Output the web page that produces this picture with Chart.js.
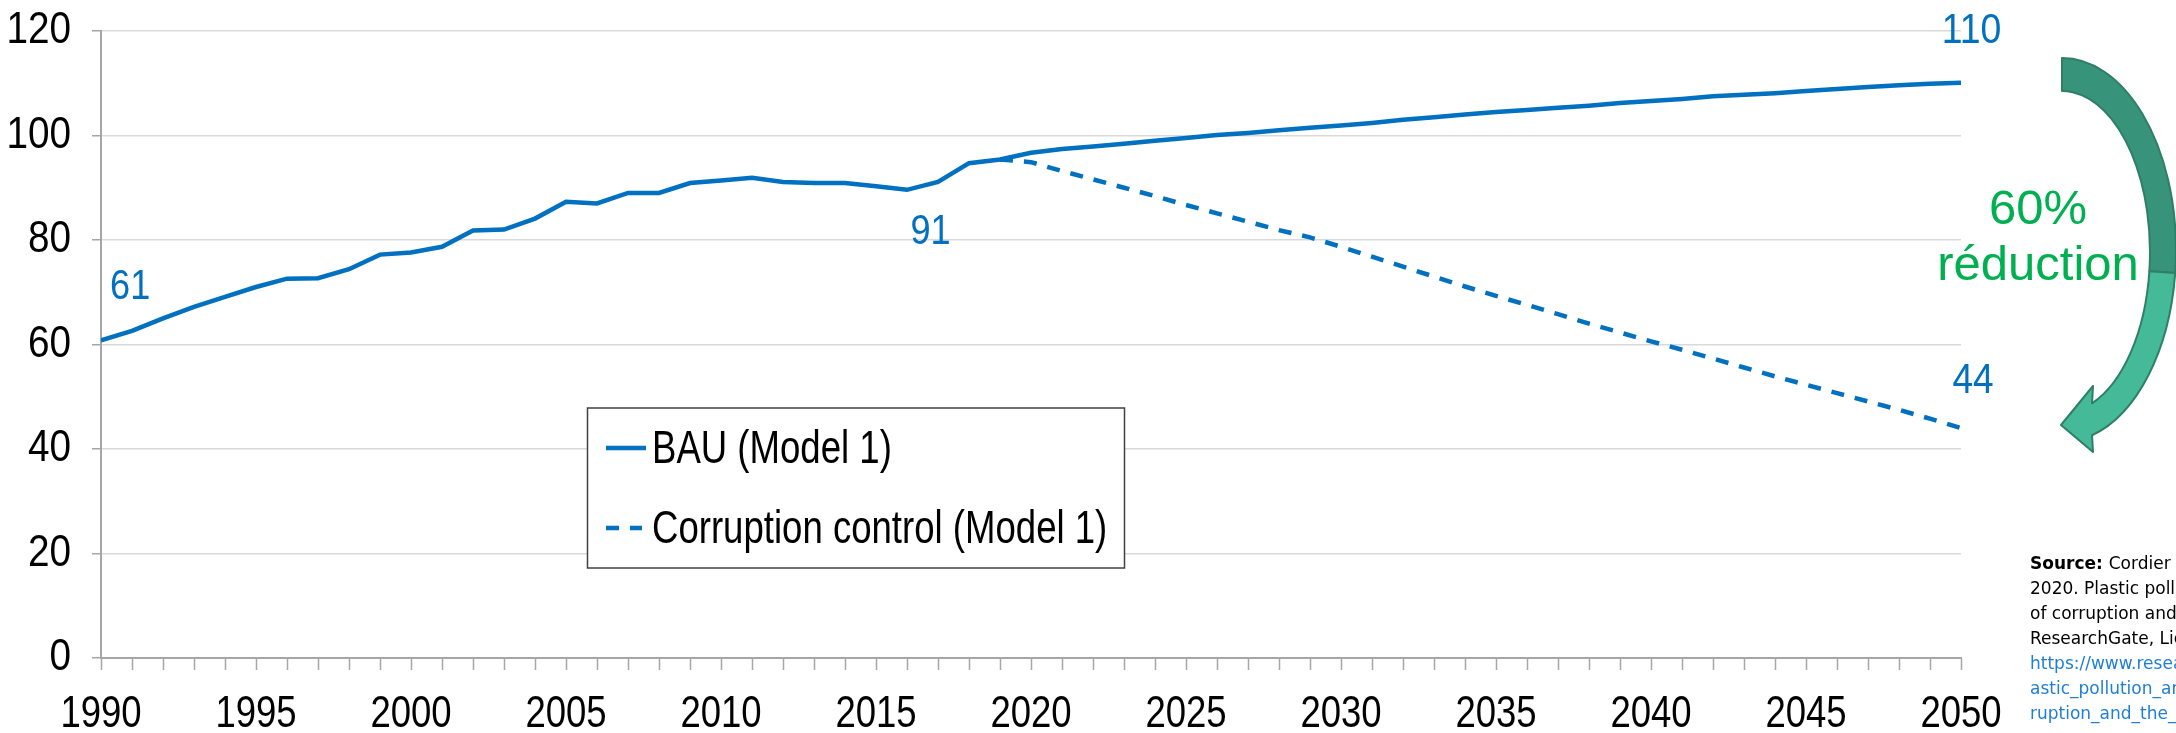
<!DOCTYPE html>
<html>
<head>
<meta charset="utf-8">
<script src="https://cdn.jsdelivr.net/npm/chart.js@4.4.1/dist/chart.umd.min.js"></script>
<style>
  html, body { margin: 0; padding: 0; background: #fff; }
  #wrap { width: 2176px; height: 733px; }
</style>
</head>
<body>
<div id="wrap"><canvas id="plasticChart" width="2176" height="733"></canvas></div>
<script>
// years on the x axis
const years = [1990, 1991, 1992, 1993, 1994, 1995, 1996, 1997, 1998, 1999,
    2000, 2001, 2002, 2003, 2004, 2005, 2006, 2007, 2008, 2009,
    2010, 2011, 2012, 2013, 2014, 2015, 2016, 2017, 2018, 2019,
    2020, 2021, 2022, 2023, 2024, 2025, 2026, 2027, 2028, 2029,
    2030, 2031, 2032, 2033, 2034, 2035, 2036, 2037, 2038, 2039,
    2040, 2041, 2042, 2043, 2044, 2045, 2046, 2047, 2048, 2049, 2050];

// BAU (Model 1)
const bauValues = [60.8, 62.6, 65.0, 67.2, 69.1, 71.0, 72.6, 72.7, 74.4, 77.2,
    77.6, 78.7, 81.8, 82.0, 84.1, 87.3, 87.0, 89.0, 89.0, 90.9,
    91.4, 91.9, 91.1, 90.9, 90.9, 90.3, 89.6, 91.1, 94.7, 95.4,
    96.7, 97.4, 97.9, 98.4, 99.0, 99.5, 100.1, 100.5, 101.0, 101.5,
    101.9, 102.4, 103.0, 103.5, 104.0, 104.5, 104.9, 105.3, 105.7, 106.2,
    106.6, 107.0, 107.5, 107.8, 108.1, 108.5, 108.9, 109.3, 109.6, 109.9, 110.1];

// Corruption control (Model 1) starts in 2019
const controlYears = [2019, 2020, 2021, 2022, 2023, 2024, 2025, 2026, 2027, 2028,
    2029, 2030, 2031, 2032, 2033, 2034, 2035, 2036, 2037, 2038, 2039,
    2040, 2041, 2042, 2043, 2044, 2045, 2046, 2047, 2048, 2049, 2050];
const controlValues = [95.4, 94.9, 93.2, 91.6, 90.0, 88.4, 86.7, 85.1, 83.5, 81.9,
    80.5, 78.7, 76.8, 74.9, 73.0, 71.1, 69.3, 67.6, 65.8, 64.0, 62.3,
    60.6, 59.0, 57.3, 55.6, 53.9, 52.3, 50.7, 49.1, 47.5, 45.8, 44.0];

const seriesNames = ['BAU (Model 1)', 'Corruption control (Model 1)'];
const xTickLabels = [1990, 1995, 2000, 2005, 2010, 2015, 2020, 2025, 2030, 2035, 2040, 2045, 2050];
const yTickLabels = [0, 20, 40, 60, 80, 100, 120];

const valueNotes = ['61', '91', '110', '44'];
const reductionNote = ['60%', 'réduction'];
const sourceLines = [
    'Cordier M., Uehara T., Baztan J., Jorgensen B., Yan H.,',
    '2020. Plastic pollution and economic growth: the influence',
    'of corruption and the lack of education consumption.',
    'ResearchGate, Licence CC BY 4.0,',
    'https://www.researchgate.net/publication/Pl',
    'astic_pollution_and_economic_growth_the_influence_of_cor',
    'ruption_and_the_lack_of_education_consumption'
];

const blue = '#0070c0';
const sans = "'Liberation Sans', Arial, sans-serif";

// linear scale whose tick labels are squeezed sideways (the original uses a narrow face)
class NarrowLinearScale extends Chart.LinearScale {
    drawLabels(area) {
        const ctx = this.ctx;
        const squeeze = this.options.ticks.squeeze || 1;
        const rotate = ctx.rotate;
        ctx.rotate = function (r) { rotate.call(this, r); this.scale(squeeze, 1); };
        super.drawLabels(area);
        delete ctx.rotate;
    }
}
NarrowLinearScale.id = 'narrowLinear';
NarrowLinearScale.defaults = Chart.LinearScale.defaults;
Chart.register(NarrowLinearScale);

function squeezedText(ctx, text, x, y, squeeze) {
    ctx.save();
    ctx.translate(x, y);
    ctx.scale(squeeze, 1);
    ctx.fillText(text, 0, 0);
    ctx.restore();
}

function drawArrow(ctx) {
    const cx = 2062;
    const outer = { cy: 250, a: 114, b: 192 };
    const inner = { cy: 252, a: 88, b: 161 };
    const split = 0.12;
    const outEnd = Math.acos(30 / outer.a);
    const inEnd = Math.acos(30 / inner.a);

    ctx.save();
    ctx.lineJoin = 'round';
    ctx.strokeStyle = '#2f7f66';
    ctx.lineWidth = 2;

    // back face (darker)
    ctx.beginPath();
    ctx.ellipse(cx, outer.cy, outer.a, outer.b, 0, -Math.PI / 2, split, false);
    ctx.ellipse(cx, inner.cy, inner.a, inner.b, 0, split, -Math.PI / 2, true);
    ctx.closePath();
    ctx.fillStyle = '#37937a';
    ctx.fill();
    ctx.stroke();

    // front face with the head
    ctx.beginPath();
    ctx.ellipse(cx, outer.cy, outer.a, outer.b, 0, split, outEnd, false);
    ctx.lineTo(2093, 452);
    ctx.lineTo(2061, 425);
    ctx.lineTo(2093, 386);
    ctx.ellipse(cx, inner.cy, inner.a, inner.b, 0, inEnd, split, true);
    ctx.closePath();
    ctx.fillStyle = '#45ba98';
    ctx.fill();
    ctx.stroke();
    ctx.restore();
}

const extrasPlugin = {
    id: 'extras',
    afterDraw(chart) {
        const ctx = chart.ctx;
        const xs = chart.scales.x;
        const ys = chart.scales.y;
        ctx.save();

        // value notes next to the lines
        ctx.fillStyle = blue;
        ctx.font = '43px ' + sans;
        ctx.textAlign = 'center';
        ctx.textBaseline = 'alphabetic';
        squeezedText(ctx, valueNotes[0], xs.getPixelForValue(1990.94), ys.getPixelForValue(68.7), 0.84);
        squeezedText(ctx, valueNotes[1], xs.getPixelForValue(2016.76), ys.getPixelForValue(79.2), 0.84);
        squeezedText(ctx, valueNotes[2], xs.getPixelForValue(2050.34), ys.getPixelForValue(117.7), 0.87);
        squeezedText(ctx, valueNotes[3], xs.getPixelForValue(2050.39), ys.getPixelForValue(50.7), 0.86);

        // legend box
        const lx = 587.5, ly = 408, lw = 537, lh = 160;
        ctx.fillStyle = '#fff';
        ctx.fillRect(lx, ly, lw, lh);
        ctx.strokeStyle = '#404040';
        ctx.lineWidth = 1.5;
        ctx.strokeRect(lx, ly, lw, lh);
        chart.data.datasets.forEach((ds, i) => {
            const y = i === 0 ? 448 : 528;
            ctx.beginPath();
            ctx.setLineDash(ds.borderDash || []);
            ctx.strokeStyle = ds.borderColor;
            ctx.lineWidth = 4.5;
            ctx.moveTo(606, y);
            ctx.lineTo(i === 0 ? 646 : 642, y);
            ctx.stroke();
            ctx.setLineDash([]);
            ctx.fillStyle = '#000';
            ctx.font = '46px ' + sans;
            ctx.textAlign = 'left';
            ctx.textBaseline = 'middle';
            squeezedText(ctx, ds.label, 652, y + 2, 0.795);
        });

        // curved arrow and reduction text
        drawArrow(ctx);
        ctx.fillStyle = '#00b050';
        ctx.font = '49px ' + sans;
        ctx.textAlign = 'center';
        ctx.textBaseline = 'alphabetic';
        ctx.fillText(reductionNote[0], 2038, 224);
        ctx.fillText(reductionNote[1], 2038, 280);

        // source block, cut by the right edge
        ctx.textAlign = 'left';
        sourceLines.forEach((line, i) => {
            const y = 569 + i * 25;
            let x = 2030;
            if (i === 0) {
                ctx.font = 'bold 17px "DejaVu Sans", sans-serif';
                ctx.fillStyle = '#000';
                ctx.fillText('Source:', x, y);
                x += ctx.measureText('Source: ').width;
            }
            ctx.font = '17px "DejaVu Sans", sans-serif';
            ctx.fillStyle = i >= 4 ? '#1f7ed6' : '#000';
            ctx.fillText(line, x, y);
        });
        ctx.restore();
    }
};

const ctx = document.getElementById('plasticChart').getContext('2d');
const plasticChart = new Chart(ctx, {
    type: 'line',
    data: {
        datasets: [{
            label: seriesNames[0],
            data: years.map((yr, i) => ({ x: yr, y: bauValues[i] })),
            borderColor: blue,
            borderWidth: 4.5,
            pointRadius: 0,
            tension: 0,
            fill: false
        }, {
            label: seriesNames[1],
            data: controlYears.map((yr, i) => ({ x: yr, y: controlValues[i] })),
            borderColor: blue,
            borderWidth: 4.5,
            borderDash: [13, 11],
            pointRadius: 0,
            tension: 0,
            fill: false
        }]
    },
    options: {
        responsive: false,
        animation: false,
        devicePixelRatio: 1,
        layout: { padding: { top: 31, right: 215, left: 0, bottom: 0 } },
        plugins: {
            legend: { display: false },
            tooltip: { enabled: false }
        },
        scales: {
            x: {
                type: 'narrowLinear',
                min: 1990,
                max: 2050,
                afterFit: function (scale) {
                    scale.height = 75;
                    scale.paddingLeft = 0;
                    scale.paddingRight = 0;
                },
                border: { color: '#a6a6a6', width: 2 },
                grid: { drawOnChartArea: false, tickLength: 12, tickColor: '#a6a6a6', tickWidth: 1.5 },
                ticks: {
                    stepSize: 1,
                    autoSkip: false,
                    maxRotation: 0,
                    padding: 18,
                    squeeze: 0.83,
                    color: '#000',
                    font: { family: sans, size: 44 },
                    callback: function (v) { return xTickLabels.includes(v) ? String(v) : ''; }
                }
            },
            y: {
                type: 'narrowLinear',
                min: 0,
                max: 120,
                afterFit: function (scale) {
                    scale.width = 101;
                    scale.paddingTop = 0;
                    scale.paddingBottom = 0;
                },
                border: { color: '#a6a6a6', width: 2 },
                grid: {
                    color: function (c) { return c.tick && c.tick.value % 20 === 0 ? '#d9d9d9' : 'rgba(0,0,0,0)'; },
                    lineWidth: 1.5,
                    tickLength: 9,
                    tickColor: '#a6a6a6',
                    tickWidth: 1.5
                },
                ticks: {
                    stepSize: 10,
                    padding: 21,
                    squeeze: 0.88,
                    color: '#000',
                    font: { family: sans, size: 44 },
                    callback: function (v) { return yTickLabels.includes(v) ? String(v) : ''; }
                }
            }
        }
    },
    plugins: [extrasPlugin]
});
</script>
</body>
</html>
